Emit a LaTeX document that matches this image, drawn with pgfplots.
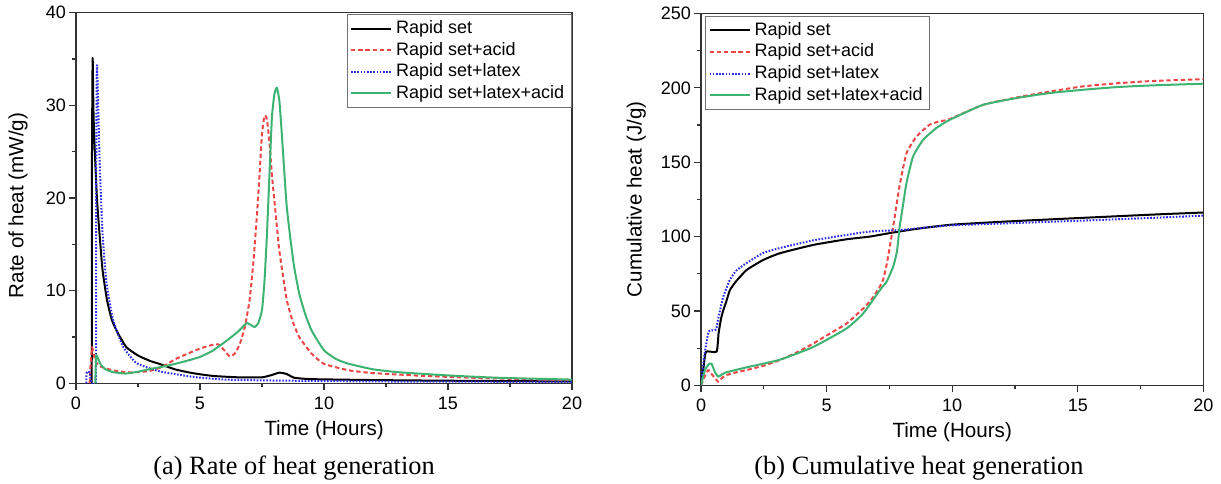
\documentclass[border=0pt]{standalone}
\usepackage{fontspec}
\setmainfont{Liberation Sans}
\newfontfamily\capfont{Liberation Serif}
\usepackage{pgfplots}
\pgfplotsset{compat=1.18}
\definecolor{cRed}{HTML}{EE4646}
\definecolor{cBlue}{HTML}{2B2BEA}
\definecolor{cGreen}{HTML}{3CB371}

\pgfplotsset{
  heatax/.style={
    scale only axis,
    xmin=0, xmax=20, xtick={0,5,...,20},
    minor x tick num=1, minor y tick num=1,
    tick align=outside, xtick pos=bottom, ytick pos=left,
    major tick length=3.5pt, minor tick length=2pt,
    axis line style={black!80, line width=0.7pt},
    tick style={black!80, line width=0.6pt},
    ticklabel style={font=\fontsize{9}{10}\selectfont},
    yticklabel style={xshift=2pt},
    label style={font=\fontsize{10.3}{12}\selectfont},
    /pgf/number format/assume math mode=true,
    legend style={font=\fontsize{9}{10}\selectfont, draw=black!55, line width=0.5pt,
      inner xsep=1.5pt, inner ysep=1pt, row sep=-1.2pt, cells={anchor=west}},
    legend image code/.code={\draw[#1] (0pt,0pt) -- (20pt,0pt);},
    every axis plot/.append style={line width=1pt, line join=round, smooth, tension=0.3},
  },
  sBlack/.style={black, solid},
  sRed/.style={cRed, dash pattern=on 2.2pt off 1.4pt},
  sBlue/.style={cBlue, dash pattern=on 0.8pt off 0.8pt},
  sGreen/.style={cGreen, solid},
}

\begin{document}
\begin{tikzpicture}
\useasboundingbox (0pt,0pt) rectangle (610.5pt,241.5pt);

% (a) rate of heat
\begin{axis}[heatax, at={(38pt,49.85pt)}, anchor=south west,
    width=248pt, height=185.3pt,
    ymin=0, ymax=40, ytick={0,10,...,40},
    xlabel={Time (Hours)}, ylabel={Rate of heat (mW/g)},
    xlabel style={at={(axis description cs:0.5,-0.126)}, anchor=center},
    ylabel style={at={(axis description cs:-0.117,0.48)}, anchor=center},
    legend style={at={(0.9994,0.9965)}, anchor=north east}]
\addplot[sBlack] coordinates {
 (0.5,0) (0.63,0) (0.64,22) (0.67,35.1) (0.7,30) (0.73,26.9) (0.85,19.7) (1.06,12.5)
 (1.25,9) (1.45,6.8) (1.69,5.4) (2.03,3.9) (2.5,3.0) (3.0,2.4) (3.36,2.1) (4.0,1.5)
 (4.7,1.1) (5.5,0.8) (6.5,0.65) (7.5,0.65) (7.9,0.9) (8.2,1.15) (8.5,1.0) (8.8,0.6)
 (9.5,0.45) (12,0.35) (15,0.28) (20,0.2)};
\addlegendentry{Rapid set}
\addplot[sRed] coordinates {
 (0.55,0) (0.6,2.5) (0.65,3.9) (0.7,3.3) (0.8,2.3) (1.0,1.8) (1.23,1.58) (1.6,1.35)
 (2.03,1.2) (2.5,1.2) (3.0,1.35) (3.5,1.8) (4.0,2.6) (4.5,3.2) (5.0,3.75) (5.5,4.15)
 (5.75,4.2) (6.0,3.5) (6.2,2.9) (6.4,3.2) (6.6,4.2) (6.8,6.0) (7.0,9.0) (7.15,13)
 (7.3,18.3) (7.4,22.5) (7.5,26.9) (7.6,28.9) (7.7,28.5) (7.8,26) (7.9,22.5) (8.0,19.7)
 (8.2,14.3) (8.5,9.0) (8.75,6.6) (9.0,5.0) (9.5,3.2) (10.0,2.1) (11,1.4) (12,1.1)
 (14,0.8) (16,0.6) (18,0.45) (20,0.35)};
\addlegendentry{Rapid set+acid}
\addplot[sBlue] coordinates {
 (0.42,0) (0.43,1.2) (0.55,1.2) (0.6,0.3) (0.8,0.3) (0.81,20) (0.84,34.2) (0.89,30.5)
 (0.96,23.3) (1.07,16.2) (1.23,10.8) (1.49,6.9) (1.89,4.0) (2.43,2.2) (3.36,1.3)
 (4.7,0.7) (6,0.4) (8,0.3) (12,0.2) (20,0.15)};
\addlegendentry{Rapid set+latex}
\addplot[sGreen] coordinates {
 (0.78,0) (0.81,3.0) (0.9,2.6) (1.0,2.0) (1.2,1.5) (1.5,1.2) (2.0,1.05) (2.5,1.25)
 (3.0,1.55) (3.5,1.8) (4.0,2.1) (4.5,2.45) (5.0,2.85) (5.5,3.5) (6.0,4.45) (6.5,5.5)
 (6.8,6.3) (6.9,6.5) (7.05,6.3) (7.2,6.07) (7.35,6.5) (7.5,7.9) (7.6,11) (7.7,16.1)
 (7.8,22.5) (7.9,28.7) (8.0,31.2) (8.1,31.9) (8.2,30.5) (8.3,26.9) (8.4,22.8) (8.5,19.0)
 (8.65,15.5) (8.8,12.5) (9.0,9.7) (9.25,7.4) (9.5,5.7) (10.0,3.56) (10.5,2.6) (11,2.1)
 (12,1.5) (13,1.2) (15,0.85) (17,0.6) (20,0.4)};
\addlegendentry{Rapid set+latex+acid}
\end{axis}

% (b) cumulative heat
\begin{axis}[heatax, at={(350.5pt,48.85pt)}, anchor=south west,
    width=251.2pt, height=185.9pt,
    ymin=0, ymax=250, ytick={0,50,...,250},
    xlabel={Time (Hours)}, ylabel={Cumulative heat (J/g)},
    xlabel style={at={(axis description cs:0.5,-0.126)}, anchor=center},
    ylabel style={at={(axis description cs:-0.129,0.5)}, anchor=center},
    legend style={at={(0.008,0.994)}, anchor=north west}]
\addplot[sBlack] coordinates {
 (0,0) (0.1,12) (0.2,22.6) (0.62,22.6) (0.7,35) (0.8,45) (0.89,50.6) (1.0,56) (1.15,64)
 (1.4,70) (1.82,77.6) (2.48,84.3) (3.14,88.8) (4.47,94.4) (5.8,98.2) (6.72,100)
 (7.5,102.3) (8.5,105) (9.9,107.9) (12,110) (14.94,112.4) (18,114.8) (20,116.2)};
\addlegendentry{Rapid set}
\addplot[sRed] coordinates {
 (0,0) (0.15,6) (0.29,10.3) (0.45,7) (0.69,2.4) (0.85,5.2) (1.02,6.9) (1.4,8.7)
 (1.82,10.3) (2.5,13.2) (3.14,17) (3.8,22) (4.47,28.1) (5.1,34.5) (5.8,41.6)
 (6.46,51.7) (6.8,58) (7.12,66.4) (7.25,70.9) (7.4,82) (7.65,106.7) (7.9,133.6)
 (8.18,156) (8.58,167.3) (9.1,175.2) (9.5,177.5) (9.9,179) (11.23,188.6) (12.55,193.5)
 (13.88,197.5) (15.2,201) (16.5,203) (17.85,204.5) (20,205.9)};
\addlegendentry{Rapid set+acid}
\addplot[sBlue] coordinates {
 (0,0) (0.15,22) (0.3,36) (0.42,37) (0.6,37.5) (0.7,46) (0.89,59.7) (1.15,71) (1.4,77)
 (1.82,82.3) (2.48,89) (3.14,92.3) (4.47,97.5) (5.8,101.1) (6.72,103.4) (7.98,104.5)
 (9.9,107.5) (12,108.8) (14.94,110.6) (18,112.6) (20,114.1)};
\addlegendentry{Rapid set+latex}
\addplot[sGreen] coordinates {
 (0,0) (0.15,10) (0.3,14) (0.42,14.6) (0.55,9) (0.69,5.8) (0.85,7.5) (1.02,8.8)
 (1.82,12.1) (3.14,17.2) (4.47,25.8) (5.8,38.3) (6.46,48.4) (7.12,64) (7.4,70)
 (7.65,79.8) (7.8,90) (7.91,106.7) (8.05,122) (8.18,136) (8.44,153.8) (8.84,165)
 (9.37,173) (9.9,178.5) (11.23,188.6) (12.55,193.1) (13.88,196.5) (15.2,198.7)
 (16.53,200.5) (17.85,201.6) (20,202.8)};
\addlegendentry{Rapid set+latex+acid}
\end{axis}

\node[font=\capfont\fontsize{13.2}{15}\selectfont] at (147pt,7.5pt) {(a) Rate of heat generation};
\node[font=\capfont\fontsize{13.2}{15}\selectfont] at (459.5pt,7.5pt) {(b) Cumulative heat generation};
\end{tikzpicture}
\end{document}
